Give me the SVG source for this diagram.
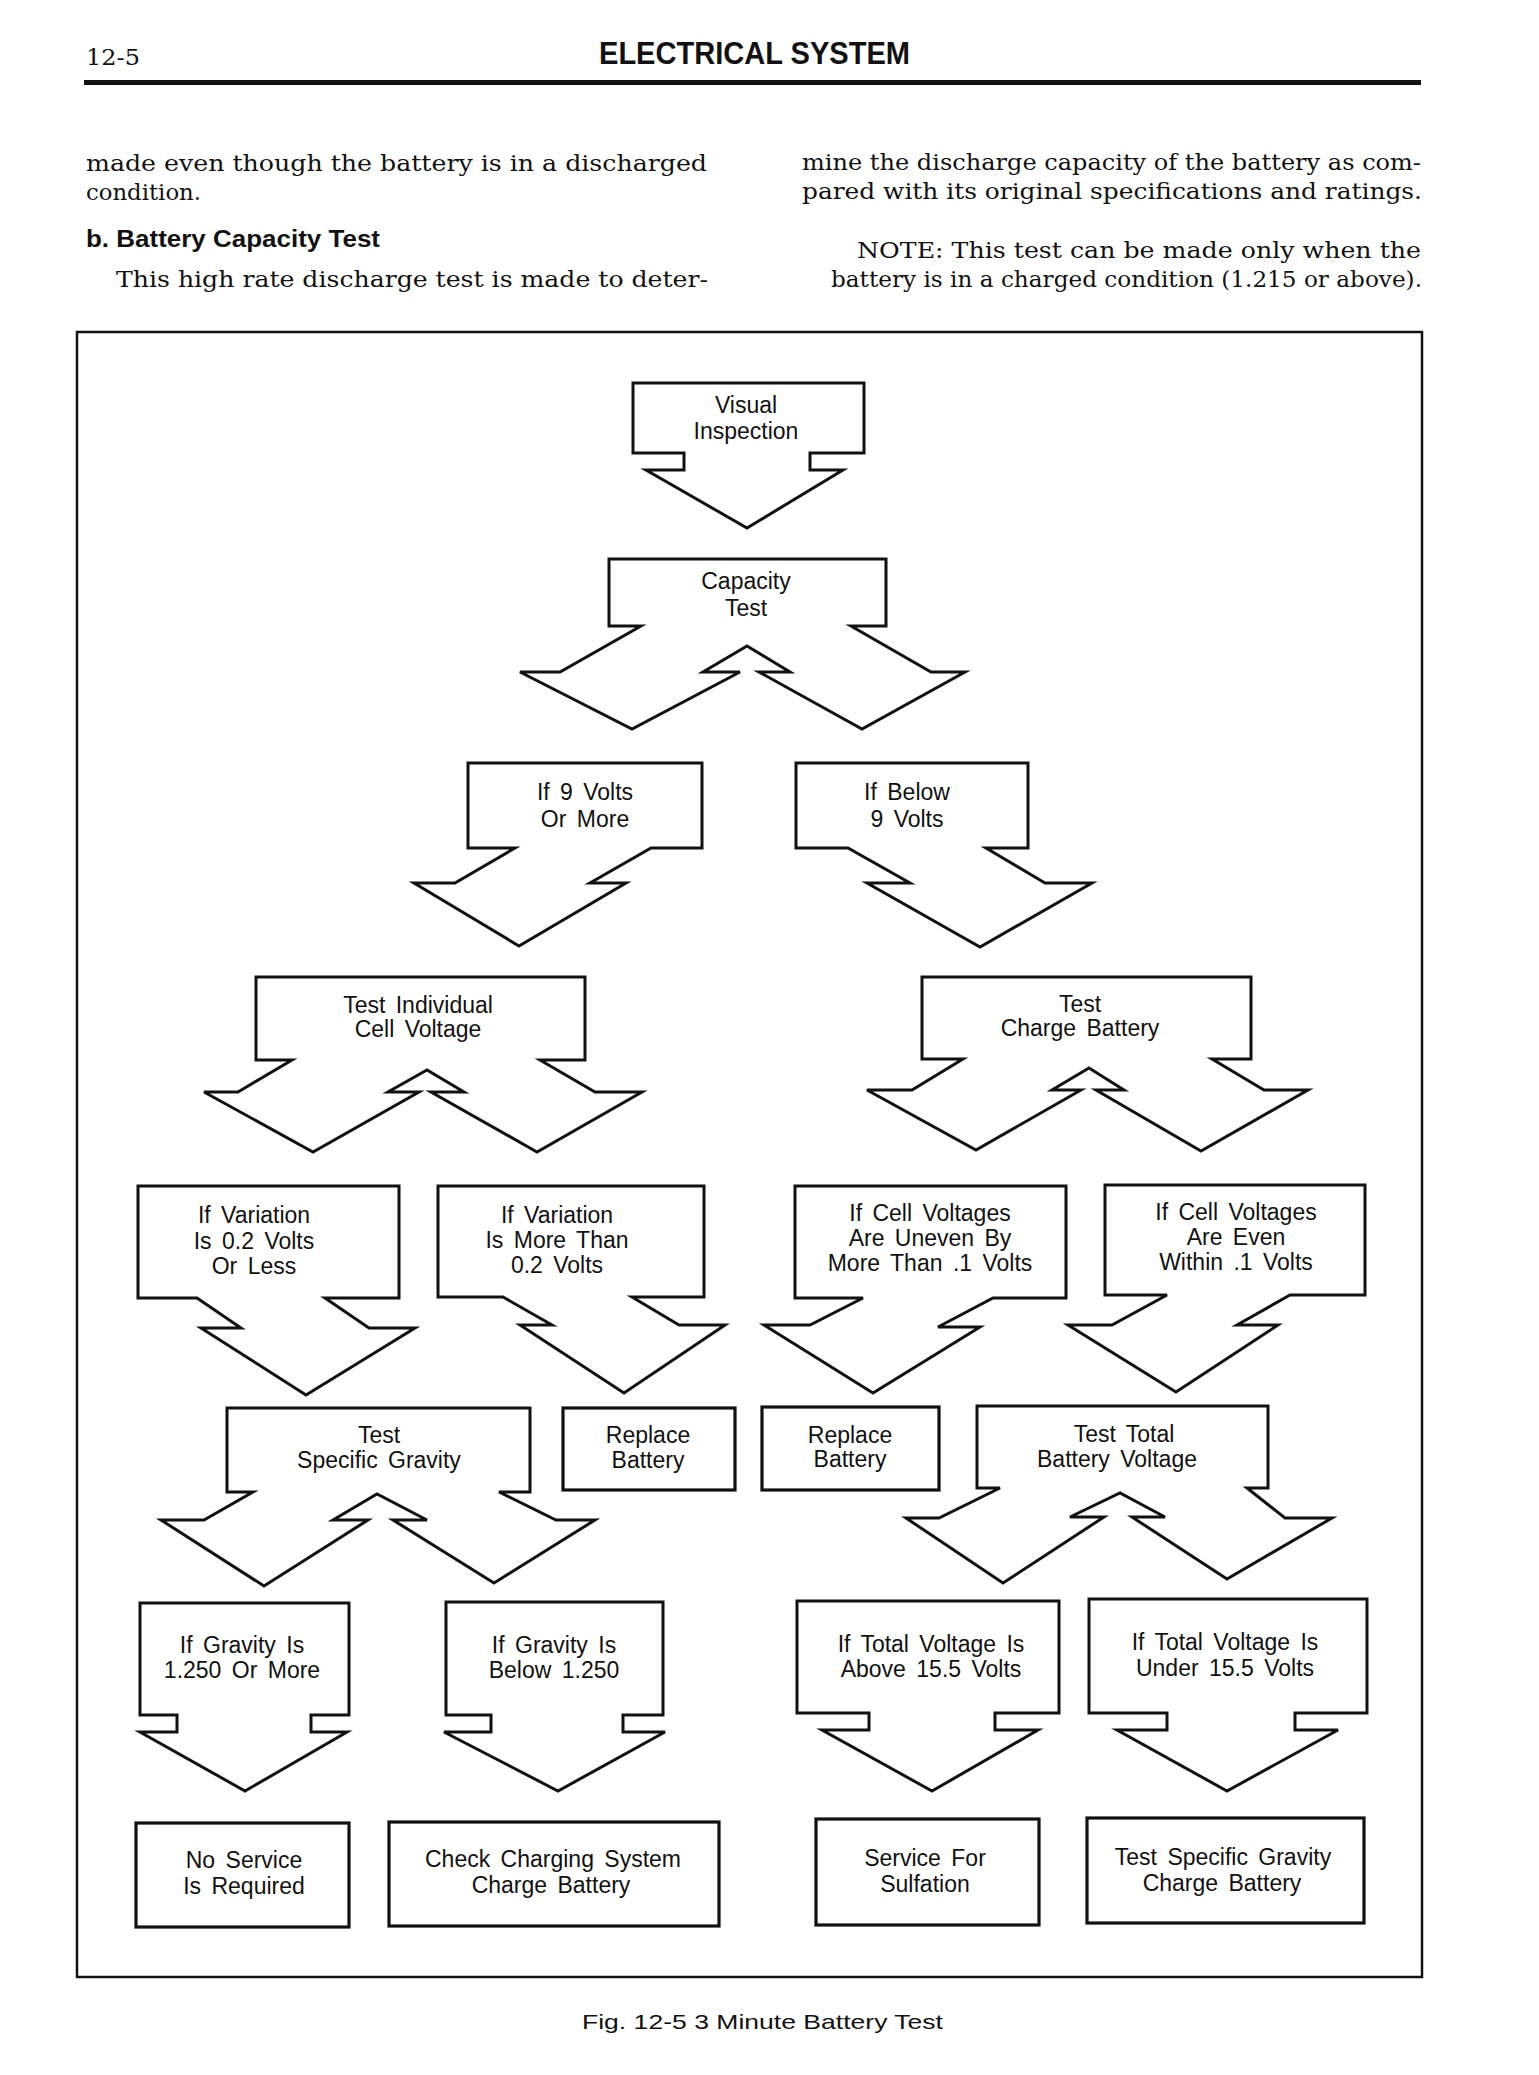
<svg xmlns="http://www.w3.org/2000/svg" width="1539" height="2075" viewBox="0 0 1539 2075">
<style>
.bg{fill:#fff}
.nd{fill:#fff;stroke:#111;stroke-width:3;stroke-linejoin:miter}
.bx{fill:#fff;stroke:#111;stroke-width:3.2}
.t{font-family:"Liberation Sans",Arial,sans-serif;font-size:23px;fill:#111;text-anchor:middle;word-spacing:4px}
.body{font-family:"DejaVu Serif","Liberation Serif",serif;font-size:22px;fill:#111}
.hd{font-family:"Liberation Sans",Arial,sans-serif;font-weight:bold;fill:#111}
</style>
<rect class="bg" x="0" y="0" width="1539" height="2075"/>
<g id="header">
<text x="86" y="65" font-family="DejaVu Serif, serif" font-size="23" fill="#111" textLength="54" lengthAdjust="spacingAndGlyphs">12-5</text>
<text class="hd" x="599" y="64" font-size="31" textLength="311" lengthAdjust="spacingAndGlyphs">ELECTRICAL SYSTEM</text>
<rect x="84" y="80" width="1337" height="5" fill="#111"/>
</g>
<g id="body-text">
<text class="body" x="86" y="171" textLength="621" lengthAdjust="spacingAndGlyphs">made even though the battery is in a discharged</text>
<text class="body" x="86" y="200" textLength="115" lengthAdjust="spacingAndGlyphs">condition.</text>
<text class="hd" x="86" y="247" font-size="23" textLength="294" lengthAdjust="spacingAndGlyphs">b. Battery Capacity Test</text>
<text class="body" x="116" y="287" textLength="592" lengthAdjust="spacingAndGlyphs">This high rate discharge test is made to deter-</text>
<text class="body" x="802" y="170" textLength="619" lengthAdjust="spacingAndGlyphs">mine the discharge capacity of the battery as com-</text>
<text class="body" x="802" y="199" textLength="620" lengthAdjust="spacingAndGlyphs">pared with its original specifications and ratings.</text>
<text class="body" x="857" y="258" textLength="564" lengthAdjust="spacingAndGlyphs">NOTE:  This test can be made only when the</text>
<text class="body" x="831" y="287" textLength="591" lengthAdjust="spacingAndGlyphs">battery is in a charged condition (1.215 or above).</text>
</g>
<rect id="frame" x="77" y="332" width="1345" height="1645" fill="none" stroke="#111" stroke-width="2.5"/>
<g id="connectors"></g>
<g id="n1"><path class="nd" d="M633,383 H864 V453 H810 V470 H843 L747,528 L646,470 H684 V453 H633 Z"/>
<text class="t" x="746" y="413">Visual</text><text class="t" x="746" y="439">Inspection</text></g>
<g id="n2"><path class="nd" d="M609,559 H886 V626 H851 L931,672 H965 L862,729 L759,672 H790 L747,646 L703,672 H740 L632,729 L520,672 H560 L641,626 H609 Z"/>
<text class="t" x="746" y="589">Capacity</text><text class="t" x="746" y="616">Test</text></g>
<g id="n3"><path class="nd" d="M468,763 H702 V848 H651 L590,883 H626 L519,946 L414,883 H455 L515,848 H468 Z"/>
<text class="t" x="585" y="800">If 9 Volts</text><text class="t" x="585" y="827">Or More</text></g>
<g id="n4"><path class="nd" d="M796,763 H1028 V848 H986 L1045,883 H1092 L980,947 L867,883 H910 L848,848 H796 Z"/>
<text class="t" x="907" y="800">If Below</text><text class="t" x="907" y="827">9 Volts</text></g>
<g id="n5"><path class="nd" d="M256,977 H585 V1060 H540 L595,1092 H642 L537,1152 L431,1092 H464 L427,1070 L388,1092 H419 L313,1152 L204,1092 H238 L292,1060 H256 Z"/>
<text class="t" x="418" y="1013">Test  Individual</text><text class="t" x="418" y="1037">Cell Voltage</text></g>
<g id="n6"><path class="nd" d="M922,977 H1251 V1059 H1212 L1264,1090 H1308 L1201,1151 L1096,1090 H1124 L1089,1068 L1052,1090 H1081 L976,1150 L867,1090 H912 L963,1059 H922 Z"/>
<text class="t" x="1080" y="1012">Test</text><text class="t" x="1080" y="1036">Charge Battery</text></g>
<g id="n7"><path class="nd" d="M138,1186 H399 V1298 H325 L369,1328 H415 L306,1395 L201,1328 H241 L197,1298 H138 Z"/>
<text class="t" x="254" y="1223">If Variation</text><text class="t" x="254" y="1249">Is 0.2 Volts</text><text class="t" x="254" y="1274">Or Less</text></g>
<g id="n8"><path class="nd" d="M438,1186 H704 V1297 H632 L679,1325 H725 L624,1393 L520,1325 H552 L503,1297 H438 Z"/>
<text class="t" x="557" y="1223">If Variation</text><text class="t" x="557" y="1248">Is More Than</text><text class="t" x="557" y="1273">0.2 Volts</text></g>
<g id="n9"><path class="nd" d="M795,1186 H1066 V1298 H993 L938,1327 H980 L873,1393 L764,1325 H810 L863,1298 H795 Z"/>
<text class="t" x="930" y="1221">If Cell Voltages</text><text class="t" x="930" y="1246">Are Uneven By</text><text class="t" x="930" y="1271">More Than .1 Volts</text></g>
<g id="n10"><path class="nd" d="M1105,1185 H1365 V1295 H1290 L1237,1325 H1278 L1176,1392 L1068,1325 H1112 L1167,1295 H1105 Z"/>
<text class="t" x="1236" y="1220">If Cell Voltages</text><text class="t" x="1236" y="1245">Are Even</text><text class="t" x="1236" y="1270">Within .1 Volts</text></g>
<g id="n11"><path class="nd" d="M227,1408 H530 V1492 H499 L556,1520 H595 L494,1583 L393,1520 H427 L377,1494 L333,1520 H368 L264,1586 L161,1520 H204 L253,1492 H227 Z"/>
<text class="t" x="379" y="1443">Test</text><text class="t" x="379" y="1468">Specific Gravity</text></g>
<g id="n12"><rect class="bx" x="563" y="1408" width="172" height="82"/>
<text class="t" x="648" y="1443">Replace</text><text class="t" x="648" y="1468">Battery</text></g>
<g id="n13"><path class="nd" d="M140,1603 H349 V1715 H311 V1732 H347 L245,1791 L140,1732 H177 V1715 H140 Z"/>
<text class="t" x="242" y="1653">If Gravity Is</text><text class="t" x="242" y="1678">1.250 Or More</text></g>
<g id="n14"><path class="nd" d="M446,1602 H663 V1715 H623 V1732 H665 L558,1791 L444,1732 H491 V1715 H446 Z"/>
<text class="t" x="554" y="1653">If Gravity Is</text><text class="t" x="554" y="1678">Below 1.250</text></g>
<g id="n15"><rect class="bx" x="762" y="1407" width="177" height="83"/>
<text class="t" x="850" y="1443">Replace</text><text class="t" x="850" y="1467">Battery</text></g>
<g id="n16"><path class="nd" d="M977,1406 H1268 V1488 H1247 L1285,1518 H1332 L1227,1579 L1132,1517 H1165 L1120,1493 L1070,1517 H1104 L1003,1583 L906,1518 H939 L1000,1488 H977 Z"/>
<text class="t" x="1124" y="1442">Test Total</text><text class="t" x="1117" y="1467">Battery Voltage</text></g>
<g id="n17"><path class="nd" d="M797,1601 H1059 V1713 H995 V1730 H1038 L932,1791 L822,1730 H869 V1713 H797 Z"/>
<text class="t" x="931" y="1652">If Total Voltage Is</text><text class="t" x="931" y="1677">Above 15.5 Volts</text></g>
<g id="n18"><path class="nd" d="M1089,1599 H1367 V1713 H1295 V1730 H1338 L1227,1791 L1117,1730 H1167 V1713 H1089 Z"/>
<text class="t" x="1225" y="1650">If Total Voltage Is</text><text class="t" x="1225" y="1676">Under 15.5 Volts</text></g>
<g id="n19"><rect class="bx" x="136" y="1823" width="213" height="104"/>
<text class="t" x="244" y="1868">No Service</text><text class="t" x="244" y="1894">Is Required</text></g>
<g id="n20"><rect class="bx" x="389" y="1822" width="330" height="104"/>
<text class="t" x="553" y="1867">Check Charging System</text><text class="t" x="551" y="1893">Charge Battery</text></g>
<g id="n21"><rect class="bx" x="816" y="1819" width="223" height="106"/>
<text class="t" x="925" y="1866">Service For</text><text class="t" x="925" y="1892">Sulfation</text></g>
<g id="n22"><rect class="bx" x="1087" y="1818" width="277" height="105"/>
<text class="t" x="1223" y="1865">Test Specific Gravity</text><text class="t" x="1222" y="1891">Charge Battery</text></g>
<text id="caption" x="582" y="2029" font-family="Liberation Sans, Arial, sans-serif" font-size="21" fill="#111" textLength="361" lengthAdjust="spacingAndGlyphs">Fig. 12-5  3 Minute Battery Test</text>
</svg>
